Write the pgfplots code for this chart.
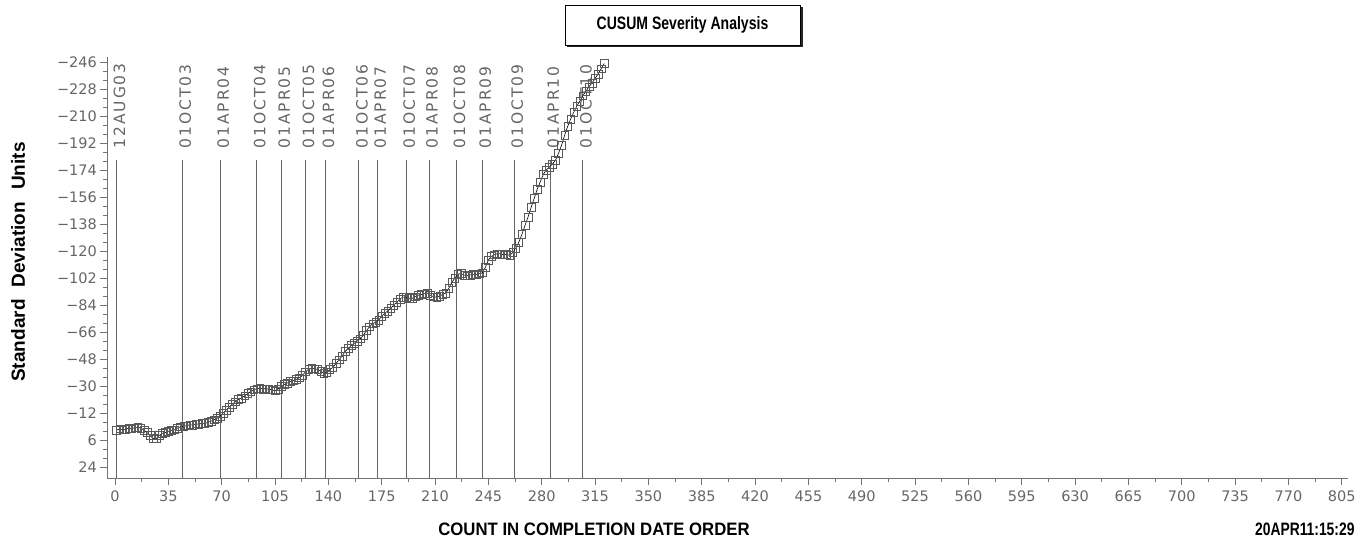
\documentclass[border=0pt]{standalone}
\usepackage{pgfplots}
\pgfplotsset{compat=1.18}
\usepackage{pgfplotstable}
\usepackage{fontspec}
\setmainfont{DejaVu Sans}
\newfontfamily\ticksans{DejaVu Sans}
\newfontfamily\datesans[LetterSpace=12]{DejaVu Sans}
\newfontfamily\titlefont[FakeStretch=0.78]{Liberation Sans}
\newfontfamily\countfont[FakeStretch=0.93]{Liberation Sans}
\newfontfamily\datefont[FakeStretch=0.77]{Liberation Sans}
\newfontfamily\ylabfont{Liberation Sans}

\pgfplotstableread{
x v
1 -0.5
3 -1.5
5 -0.8
7 -1.2
9 -2.0
11 -1.6
13 -2.2
15 -2.6
17 -2.0
19 -0.5
21 1.0
23 3.0
25 5.0
27 5.2
29 3.0
31 1.5
33 1.0
35 0.2
37 -0.5
39 -0.8
41 -2.0
43 -2.8
45 -3.2
47 -3.5
49 -4.2
51 -4.0
53 -4.8
55 -4.5
57 -5.2
59 -5.0
61 -5.8
63 -6.5
65 -7.5
67 -8.5
69 -10.0
71 -12.0
73 -14.0
75 -16.0
77 -18.0
79 -19.5
81 -21.0
83 -22.0
85 -23.5
87 -25.0
89 -26.2
91 -27.5
93 -28.2
95 -28.5
97 -28.0
99 -28.3
101 -27.8
103 -27.5
105 -26.8
107 -28.0
109 -30.0
111 -31.0
113 -32.0
115 -33.0
117 -33.5
119 -34.5
121 -35.5
123 -37.0
125 -39.5
127 -41.0
129 -41.8
131 -41.5
133 -41.0
135 -40.0
137 -38.5
139 -39.0
141 -41.0
143 -42.5
145 -45.0
147 -47.5
149 -50.0
151 -53.0
153 -55.0
155 -57.0
157 -58.5
159 -60.0
161 -61.5
163 -64.0
165 -67.0
167 -69.5
169 -71.5
171 -72.5
173 -74.0
175 -76.5
177 -78.5
179 -80.0
181 -82.0
183 -84.0
185 -86.0
187 -88.0
189 -89.3
191 -89.0
193 -88.5
195 -88.5
197 -89.5
199 -90.5
201 -91.0
203 -91.5
205 -92.0
207 -90.5
209 -89.5
211 -89.3
213 -90.0
215 -91.0
217 -92.0
219 -95.0
221 -99.0
223 -102.0
225 -104.5
227 -105.0
229 -104.0
231 -103.5
233 -104.0
235 -104.5
237 -104.2
239 -104.8
241 -105.5
243 -109.0
245 -114.0
247 -116.5
249 -117.5
251 -118.3
253 -118.0
255 -117.5
257 -117.8
259 -117.0
261 -119.0
263 -122.0
265 -126.0
267 -131.0
269 -137.0
271 -142.5
273 -149.0
275 -155.0
277 -161.0
279 -166.0
281 -171.0
283 -174.0
285 -176.0
287 -178.0
289 -180.5
291 -185.0
293 -190.5
295 -197.0
297 -203.0
299 -208.0
301 -212.5
303 -216.5
305 -220.0
307 -223.5
309 -226.5
311 -229.5
313 -232.0
315 -235.0
317 -238.0
319 -241.5
321 -245.0
}\cusum

\begin{document}
\begin{tikzpicture}
\path[use as bounding box] (0,0) rectangle (1364pt,540pt);

% title box with shadow
\draw[line width=1.6pt, black!85] (567pt,493.5pt) -- (802pt,493.5pt) -- (802pt,533pt);
\node[draw=black, line width=0.9pt, fill=white, minimum width=235pt, minimum height=40pt,
      inner sep=0pt, font=\titlefont\bfseries\fontsize{18}{18}\selectfont]
      at (682.5pt,515pt) {CUSUM Severity Analysis};

% axis titles
\node[rotate=90, font=\ylabfont\bfseries\fontsize{19}{19}\selectfont]
      at (18pt,278pt) {Standard\hspace{12pt}Deviation\hspace{12pt}Units};
\node[font=\countfont\bfseries\fontsize{18}{18}\selectfont]
      at (594pt,11pt) {COUNT IN COMPLETION DATE ORDER};
\node[anchor=east, font=\datefont\bfseries\fontsize{18}{18}\selectfont]
      at (1358pt,11pt) {20APR11:15:29};

\begin{axis}[
  at={(107.4pt,62pt)}, anchor=south west,
  scale only axis, width=1240.4pt, height=420.5pt,
  xmin=-5, xmax=809, ymin=-249, ymax=31.33, y dir=reverse,
  axis lines*=left,
  axis line style={black!55, line width=0.8pt},
  xtick={0,35,...,805},
  xticklabels={0,35,70,105,140,175,210,245,280,315,350,385,420,455,490,525,560,595,630,665,700,735,770,805},
  ytick={-246,-228,-210,-192,-174,-156,-138,-120,-102,-84,-66,-48,-30,-12,6,24},
  yticklabels={−246,−228,−210,−192,−174,−156,−138,−120,−102,−84,−66,−48,−30,−12,6,24},
  minor x tick num=1, minor y tick num=2,
  tick align=outside,
  major tick length=7pt, minor tick length=4pt,
  tick style={black!55, line width=0.8pt},
  ticklabel style={font=\ticksans\fontsize{14.5}{14.5}\selectfont, text=black!60},
  xticklabel style={yshift=-2pt},
  clip=false,
]
% date reference lines
\addplot[black!60, line width=0.8pt] coordinates {(1,-180.7) (1,31.33)};
\addplot[black!60, line width=0.8pt] coordinates {(44,-180.7) (44,31.33)};
\addplot[black!60, line width=0.8pt] coordinates {(69,-180.7) (69,31.33)};
\addplot[black!60, line width=0.8pt] coordinates {(93,-180.7) (93,31.33)};
\addplot[black!60, line width=0.8pt] coordinates {(109,-180.7) (109,31.33)};
\addplot[black!60, line width=0.8pt] coordinates {(125,-180.7) (125,31.33)};
\addplot[black!60, line width=0.8pt] coordinates {(138,-180.7) (138,31.33)};
\addplot[black!60, line width=0.8pt] coordinates {(160,-180.7) (160,31.33)};
\addplot[black!60, line width=0.8pt] coordinates {(172,-180.7) (172,31.33)};
\addplot[black!60, line width=0.8pt] coordinates {(191,-180.7) (191,31.33)};
\addplot[black!60, line width=0.8pt] coordinates {(206,-180.7) (206,31.33)};
\addplot[black!60, line width=0.8pt] coordinates {(224,-180.7) (224,31.33)};
\addplot[black!60, line width=0.8pt] coordinates {(241,-180.7) (241,31.33)};
\addplot[black!60, line width=0.8pt] coordinates {(262,-180.7) (262,31.33)};
\addplot[black!60, line width=0.8pt] coordinates {(285.5,-180.7) (285.5,31.33)};
\addplot[black!60, line width=0.8pt] coordinates {(307,-180.7) (307,31.33)};

\def\dl#1#2{\node[rotate=90, anchor=west, inner sep=0pt, text=black!60,
   font=\datesans\fontsize{15.5}{15.5}\selectfont] at (axis cs:#1,-188.5) {#2};}
\dl{3}{12AUG03}
\dl{46}{01OCT03}
\dl{71}{01APR04}
\dl{95}{01OCT04}
\dl{111}{01APR05}
\dl{127}{01OCT05}
\dl{140}{01APR06}
\dl{162}{01OCT06}
\dl{174}{01APR07}
\dl{193}{01OCT07}
\dl{208}{01APR08}
\dl{226}{01OCT08}
\dl{243}{01APR09}
\dl{264}{01OCT09}
\dl{287.5}{01APR10}
\dl{309}{01OCT10}

% CUSUM series
\addplot[black, line width=0.6pt, mark=square, mark size=3.8pt,
   mark options={draw=black!65, line width=0.5pt, solid}] table[x=x, y=v] {\cusum};
\end{axis}
\end{tikzpicture}
\end{document}
